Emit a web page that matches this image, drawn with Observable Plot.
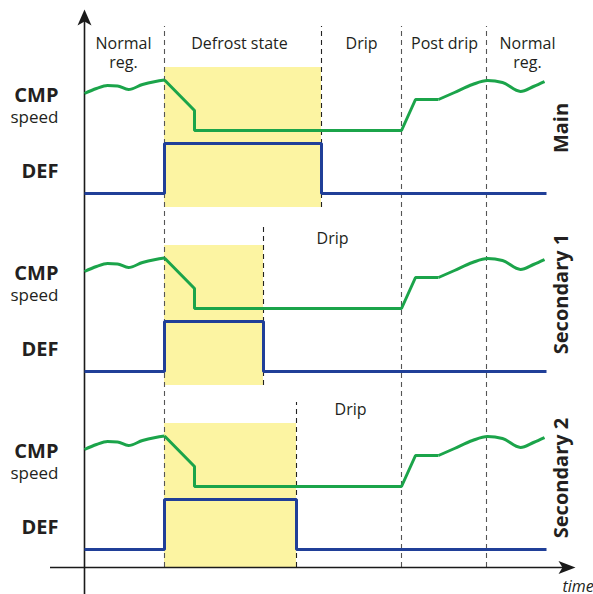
<!DOCTYPE html>
<html><head><meta charset="utf-8">
<script src="https://cdn.jsdelivr.net/npm/d3@7"></script>
<script src="https://cdn.jsdelivr.net/npm/@observablehq/plot@0.6"></script>
<style>body{margin:0;background:#fff;} svg{display:block}</style>
</head><body><div id="chart"></div>
<script>
// ---------- DATA (time in units from the vertical axis, levels relative to DEF "off") ----------
const panels = ["Main", "Secondary 1", "Secondary 2"];
const phaseLabels = ["Normal\nreg.", "Defrost state", "Drip", "Post drip", "Normal\nreg."];
const phaseLabelTimes = [39, 155, 277, 360, 443];
const phaseBounds = [80, 317, 402];          // defrost start, post-drip start, normal-reg start
const defrostEnd = [237, 179, 212];          // DEF switches off (per panel)
const dripLabels = ["", "Drip", "Drip"];
const dripLabelTimes = [0, 248, 266];
const timeEnd = 462;
const defOff = 0, defOn = 50;
// CMP speed: wavy start, angular middle, wavy end
const cmpWaveStart = [[0,100],[12,105],[23,108],[33,107.5],[44,104],[58,109],[71,112],[80,113.5]];
const cmpAngular   = [[80,113.5],[110,83],[110,63],[317,63],[331,94],[354,94]];
const cmpWaveEnd   = [[354,94],[370,101],[388,109],[403,113],[418,111],[436,102],[449,107],[460,112]];

// ---------- LAYOUT ----------
const axisLevel = 27;
const base = k => 45 + (2 - k) * 178;
const panelLabelOffset = [65.5, 77.5, 71.5];
const endLineTop = [167, 144, 147];
const yellow = "#fcf4a2", green = "#1ba44a", blue = "#203f98";

const P = panels.map((name, k) => ({
  name, k, b: base(k), defEnd: defrostEnd[k],
  rectBottom: k === 2 ? axisLevel : base(k) - 14,
  rectTop: base(k) + 126
}));

const defPts = [], cmpA = [], cmpW = [];
P.forEach(p => {
  [[0,defOff],[phaseBounds[0],defOff],[phaseBounds[0],defOn],[p.defEnd,defOn],[p.defEnd,defOff],[timeEnd,defOff]]
    .forEach(([t,v]) => defPts.push({t, v: p.b + v, z: p.name}));
  cmpAngular.forEach(([t,v]) => cmpA.push({t, v: p.b + v, z: p.name}));
  cmpWaveStart.forEach(([t,v]) => cmpW.push({t, v: p.b + v, z: p.name + "s"}));
  cmpWaveEnd.forEach(([t,v]) => cmpW.push({t, v: p.b + v, z: p.name + "e"}));
});

const arrowUp = {draw(c){ c.moveTo(0,0); c.lineTo(7,16); c.lineTo(0,12); c.lineTo(-7,16); c.closePath(); }};
const arrowRight = {draw(c){ c.moveTo(0,0); c.lineTo(-17,6.5); c.lineTo(-13,0); c.lineTo(-17,-6.5); c.closePath(); }};

const boldLabels = [], speedLabels = [];
P.forEach(p => {
  boldLabels.push({t: -26, v: p.b + 106, text: "CMP"});
  boldLabels.push({t: -26, v: p.b + 29.5, text: "DEF"});
  speedLabels.push({t: -26, v: p.b + 83, text: "speed"});
});

const ink = "#231f20";
const chart = Plot.plot({
  width: 593, height: 594,
  marginTop: 0, marginBottom: 0, marginLeft: 0, marginRight: 0,
  x: {domain: [-84, 509], range: [0, 593], axis: null},
  y: {domain: [0, 594], range: [594, 0], axis: null},
  style: {fontFamily: "'Open Sans', sans-serif", background: "#fff", color: ink},
  marks: [
    Plot.rect(P, {x1: () => phaseBounds[0], x2: "defEnd", y1: "rectBottom", y2: "rectTop", fill: yellow}),
    Plot.ruleX(phaseBounds, {y1: axisLevel, y2: 568, stroke: "#555", strokeWidth: 1.1, strokeDasharray: "5,4"}),
    Plot.ruleX(P, {x: "defEnd", y1: d => d.rectBottom, y2: d => d.b + endLineTop[d.k], stroke: "#222", strokeWidth: 1.1, strokeDasharray: "5,4"}),
    Plot.ruleX([0], {y1: 0, y2: 575, stroke: "#1a1a1a", strokeWidth: 1.6}),
    Plot.ruleY([axisLevel], {x1: -34, x2: 480, stroke: "#1a1a1a", strokeWidth: 1.6}),
    Plot.dot([{t: 0, v: 585}], {x: "t", y: "v", symbol: arrowUp, fill: "#1a1a1a", stroke: "none", r: 4}),
    Plot.dot([{t: 491, v: axisLevel}], {x: "t", y: "v", symbol: arrowRight, fill: "#1a1a1a", stroke: "none", r: 4}),
    Plot.line(defPts, {x: "t", y: "v", z: "z", stroke: blue, strokeWidth: 3, strokeLinejoin: "miter", strokeLinecap: "butt"}),
    Plot.line(cmpA, {x: "t", y: "v", z: "z", stroke: green, strokeWidth: 3, strokeLinejoin: "miter", strokeLinecap: "butt"}),
    Plot.line(cmpW, {x: "t", y: "v", z: "z", stroke: green, strokeWidth: 3, curve: "monotone-x", strokeLinecap: "butt"}),
    Plot.text(phaseLabels, {x: (d, i) => phaseLabelTimes[i], y: 559, text: d => d, lineAnchor: "top", fontSize: 16, lineHeight: 1.2, fill: ink}),
    Plot.text(P.filter(p => dripLabels[p.k]), {x: p => dripLabelTimes[p.k], y: p => p.b + (p.k === 1 ? 138.5 : 145.7), text: p => dripLabels[p.k], lineAnchor: "top", fontSize: 16, fill: ink}),
    Plot.text(boldLabels, {x: "t", y: "v", text: "text", textAnchor: "end", lineAnchor: "top", fontWeight: "bold", fontSize: 20, fill: ink}),
    Plot.text(speedLabels, {x: "t", y: "v", text: "text", textAnchor: "end", lineAnchor: "top", fontSize: 17, fill: ink}),
    Plot.text(P, {x: 477.5, y: p => p.b + panelLabelOffset[p.k], text: "name", rotate: -90, fontWeight: "bold", fontSize: 20, fill: ink}),
    Plot.text(["time"], {x: 478, y: 14, text: d => d, textAnchor: "start", lineAnchor: "top", fontSize: 16, fontStyle: "italic", fill: ink})
  ]
});
document.getElementById("chart").append(chart);
</script>
</body></html>
